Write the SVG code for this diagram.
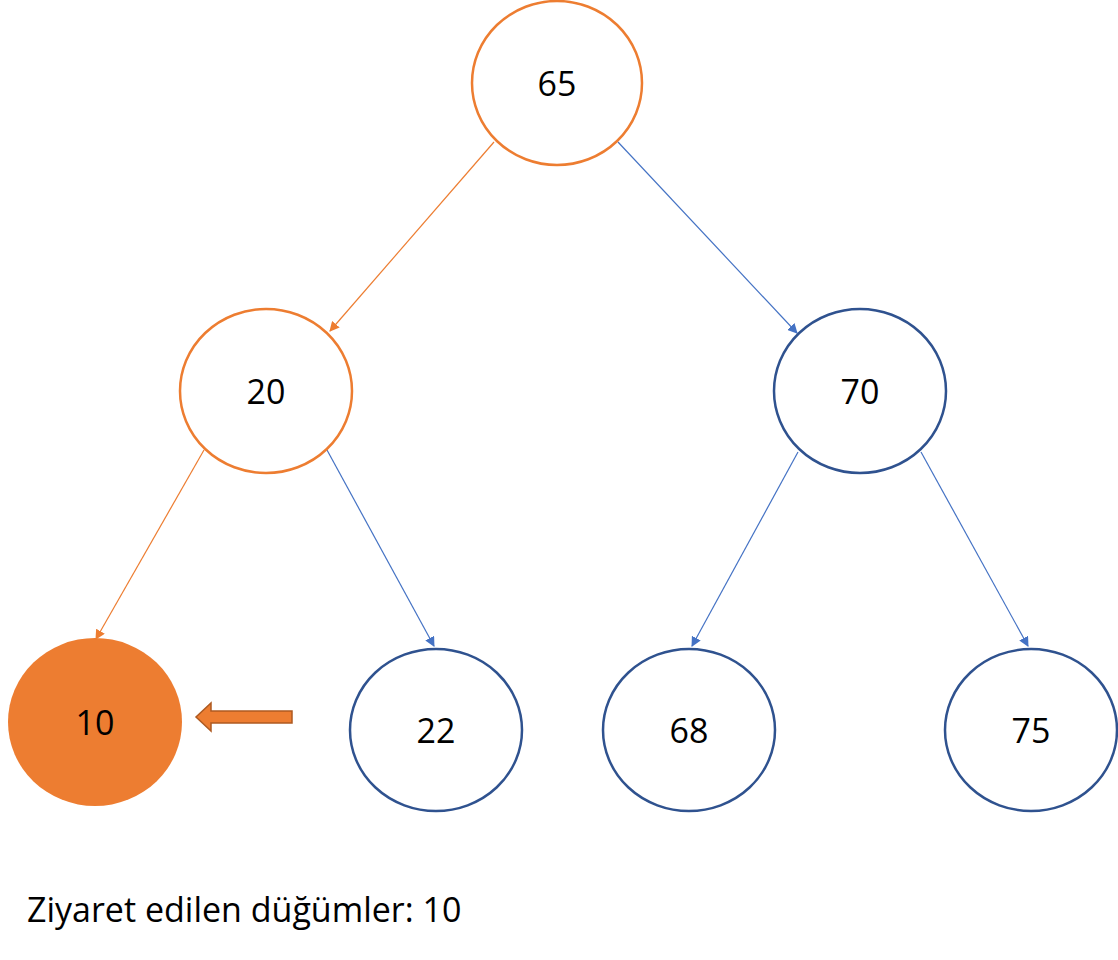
<svg xmlns="http://www.w3.org/2000/svg" width="1118" height="960" viewBox="0 0 1118 960">
<style>
.n{fill:#fff;stroke:#2F528F;stroke-width:2.5}
.o{fill:#fff;stroke:#ED7D31;stroke-width:2.5}
.t{font-family:"Open Sans",sans-serif;font-size:34px;fill:#000;text-anchor:middle;dominant-baseline:central}
.eb{stroke:#4472C4;stroke-width:1.2;fill:none;marker-end:url(#ab)}
.eo{stroke:#ED7D31;stroke-width:1.2;fill:none;marker-end:url(#ao)}
</style>
<defs>
<marker id="ab" viewBox="0 0 10 10" refX="9" refY="5" markerWidth="10" markerHeight="10" markerUnits="userSpaceOnUse" orient="auto"><path d="M0,0L10,5L0,10z" fill="#4472C4"/></marker>
<marker id="ao" viewBox="0 0 10 10" refX="9" refY="5" markerWidth="10" markerHeight="10" markerUnits="userSpaceOnUse" orient="auto"><path d="M0,0L10,5L0,10z" fill="#ED7D31"/></marker>
</defs>
<rect width="1118" height="960" fill="#fff"/>
<g id="edges">
<line class="eo" x1="494" y1="142" x2="330" y2="331"/>
<line class="eb" x1="618" y1="142" x2="797" y2="333"/>
<line class="eo" x1="204" y1="450" x2="96" y2="639"/>
<line class="eb" x1="327" y1="450" x2="434" y2="646"/>
<line class="eb" x1="798" y1="452" x2="692" y2="646"/>
<line class="eb" x1="921" y1="452" x2="1028" y2="646"/>
</g>
<g id="n65"><ellipse class="o" cx="557" cy="83" rx="85" ry="82"/><text class="t" x="557" y="83">65</text></g>
<g id="n20"><ellipse class="o" cx="266" cy="391" rx="86" ry="82"/><text class="t" x="266" y="391">20</text></g>
<g id="n70"><ellipse class="n" cx="860" cy="391" rx="86" ry="82"/><text class="t" x="860" y="391">70</text></g>
<g id="n10"><ellipse cx="95" cy="722" rx="87" ry="84" fill="#ED7D31"/><text class="t" x="95" y="722">10</text></g>
<g id="n22"><ellipse class="n" cx="436" cy="730" rx="86" ry="81"/><text class="t" x="436" y="730">22</text></g>
<g id="n68"><ellipse class="n" cx="689" cy="730" rx="86" ry="81"/><text class="t" x="689" y="730">68</text></g>
<g id="n75"><ellipse class="n" cx="1031" cy="730" rx="86" ry="81"/><text class="t" x="1031" y="730">75</text></g>
<g id="pointer"><path d="M292,711L211,711L211,703L196,717L211,731L211,723L292,723z" fill="#ED7D31" stroke="#AE5A21" stroke-width="1.5"/></g>
<text x="27" y="922" font-family="Open Sans,sans-serif" font-size="34" fill="#000">Ziyaret edilen düğümler: 10</text>
</svg>
